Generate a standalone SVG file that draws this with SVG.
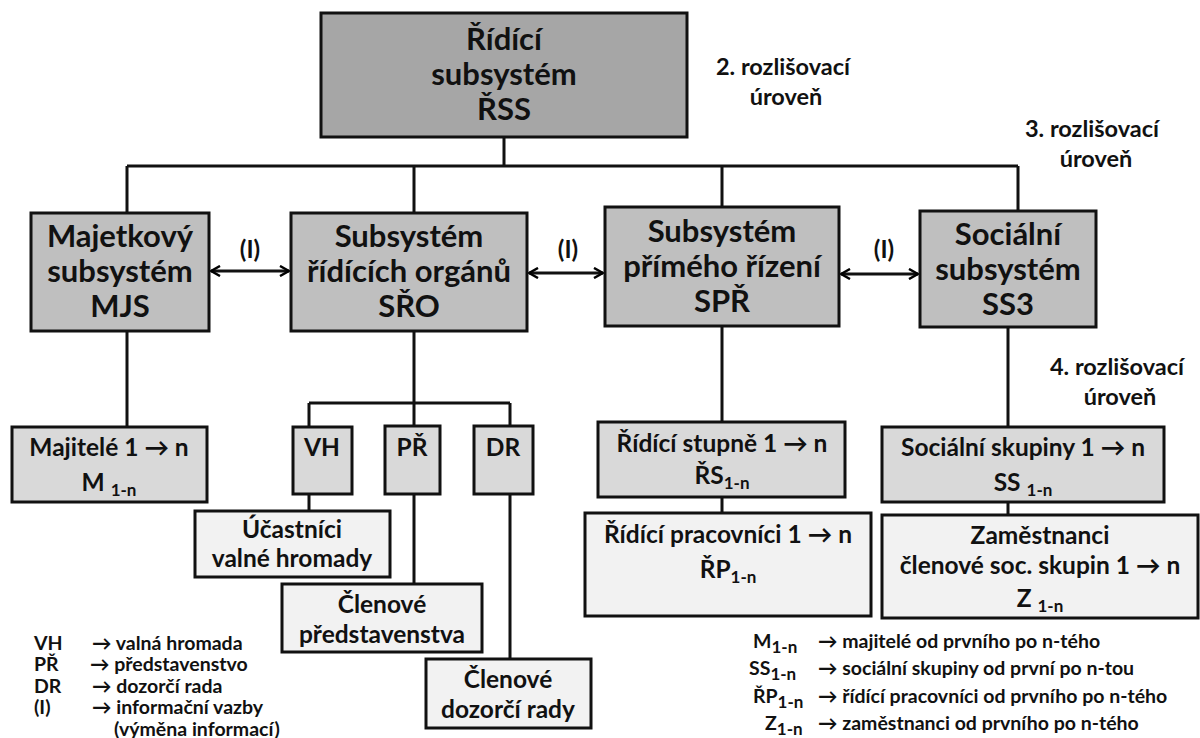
<svg xmlns="http://www.w3.org/2000/svg" width="1200" height="738" viewBox="0 0 1200 738">
<defs>
<marker id="chev" viewBox="0 0 12 12" refX="11" refY="6" markerWidth="12" markerHeight="12" markerUnits="userSpaceOnUse" orient="auto-start-reverse">
<path d="M2,1 L11,6 L2,11" fill="none" stroke="#000" stroke-width="2.5"/>
</marker>
<style>
text{font-family:Lato,"Liberation Sans",sans-serif;font-weight:bold;fill:#111;text-anchor:middle}
.b{stroke:#111;stroke-width:3}
.l1{fill:#a6a6a6}
.l2{fill:#bfbfbf}
.l3{fill:#d9d9d9}
.l4{fill:#f2f2f2}
.big{font-size:31px}
.mid{font-size:24.5px}
.sub{font-size:17px}
.lab{font-size:23.5px}
.ii{font-size:24px}
.leg{font-size:19.5px;text-anchor:start}
.ln{stroke:#111;stroke-width:3;fill:none}
</style>
</defs>
<rect width="1200" height="738" fill="#fff"/>

<g id="connectors">
<path class="ln" d="M504,137 V166 M127,166 H1018 M127,166 V213 M414,166 V213 M722,166 V207 M1018,166 V211"/>
<path class="ln" d="M127,331 V427 M414,331 V426 M309,403 H510 M309,403 V427 M510,403 V426 M309,494 V511 M414,494 V584 M510,494 V659"/>
<path class="ln" d="M722,326 V422 M722,497 V513 M1008,327 V427 M1008,502 V515"/>
<line class="ln" x1="211" y1="271" x2="289" y2="271" marker-start="url(#chev)" marker-end="url(#chev)"/>
<line class="ln" x1="529" y1="273" x2="603" y2="273" marker-start="url(#chev)" marker-end="url(#chev)"/>
<line class="ln" x1="841" y1="274" x2="918" y2="274" marker-start="url(#chev)" marker-end="url(#chev)"/>
<text class="ii" x="250" y="258">(I)</text>
<text class="ii" x="568" y="258">(I)</text>
<text class="ii" x="884" y="258">(I)</text>
</g>

<g id="rss">
<rect class="b l1" x="321" y="13" width="366" height="124"/>
<text class="big" x="504" y="50">Řídící</text>
<text class="big" x="504" y="85">subsystém</text>
<text class="big" x="504" y="120">ŘSS</text>
</g>

<g id="levels">
<text class="lab" x="783" y="75">2. rozlišovací</text>
<text class="lab" x="786" y="105">úroveň</text>
<text class="lab" x="1092" y="137">3. rozlišovací</text>
<text class="lab" x="1096" y="167">úroveň</text>
<text class="lab" x="1117" y="375">4. rozlišovací</text>
<text class="lab" x="1120" y="405">úroveň</text>
</g>

<g id="mjs">
<rect class="b l2" x="31" y="213" width="178" height="118"/>
<text class="big" x="120" y="247">Majetkový</text>
<text class="big" x="120" y="282">subsystém</text>
<text class="big" x="120" y="317">MJS</text>
</g>

<g id="sro">
<rect class="b l2" x="291" y="213" width="236" height="118"/>
<text class="big" x="409" y="247">Subsystém</text>
<text class="big" x="409" y="282">řídících orgánů</text>
<text class="big" x="409" y="317">SŘO</text>
</g>

<g id="spr">
<rect class="b l2" x="605" y="207" width="234" height="119"/>
<text class="big" x="722" y="242">Subsystém</text>
<text class="big" x="722" y="277">přímého řízení</text>
<text class="big" x="722" y="312">SPŘ</text>
</g>

<g id="ss3">
<rect class="b l2" x="920" y="211" width="176" height="116"/>
<text class="big" x="1008" y="245">Sociální</text>
<text class="big" x="1008" y="280">subsystém</text>
<text class="big" x="1008" y="315">SS3</text>
</g>

<g id="majitele">
<rect class="b l3" x="12" y="427" width="195" height="75"/>
<text class="mid" x="109" y="456">Majitelé 1 → n</text>
<text class="mid" x="109" y="491">M <tspan class="sub" dy="5">1-n</tspan></text>
</g>

<g id="vh">
<rect class="b l3" x="293" y="427" width="59" height="67"/>
<text class="mid" x="322" y="456">VH</text>
</g>
<g id="pr">
<rect class="b l3" x="385" y="426" width="55" height="68"/>
<text class="mid" x="412" y="456">PŘ</text>
</g>
<g id="dr">
<rect class="b l3" x="474" y="426" width="59" height="68"/>
<text class="mid" x="503" y="456">DR</text>
</g>

<g id="ucastnici">
<rect class="b l4" x="195" y="511" width="195" height="66"/>
<text class="mid" x="292" y="538">Účastníci</text>
<text class="mid" x="292" y="567">valné hromady</text>
</g>
<g id="clenove-pr">
<rect class="b l4" x="282" y="584" width="200" height="68"/>
<text class="mid" x="382" y="613">Členové</text>
<text class="mid" x="382" y="643">představenstva</text>
</g>
<g id="clenove-dr">
<rect class="b l4" x="426" y="659" width="165" height="69"/>
<text class="mid" x="508" y="688">Členové</text>
<text class="mid" x="508" y="718">dozorčí rady</text>
</g>

<g id="ridici-stupne">
<rect class="b l3" x="598" y="422" width="247" height="75"/>
<text class="mid" x="722" y="452">Řídící stupně 1 → n</text>
<text class="mid" x="722" y="484">ŘS<tspan class="sub" dy="5">1-n</tspan></text>
</g>
<g id="ridici-pracovnici">
<rect class="b l4" x="585" y="513" width="286" height="103"/>
<text class="mid" x="728" y="543">Řídící pracovníci 1 → n</text>
<text class="mid" x="728" y="578">ŘP<tspan class="sub" dy="5">1-n</tspan></text>
</g>

<g id="soc-skupiny">
<rect class="b l3" x="882" y="427" width="282" height="75"/>
<text class="mid" x="1023" y="456">Sociální skupiny 1 → n</text>
<text class="mid" x="1023" y="491">SS <tspan class="sub" dy="5">1-n</tspan></text>
</g>
<g id="zamestnanci">
<rect class="b l4" x="882" y="515" width="316" height="103"/>
<text class="mid" x="1040" y="544">Zaměstnanci</text>
<text class="mid" x="1040" y="574">členové soc. skupin 1 → n</text>
<text class="mid" x="1040" y="607">Z <tspan class="sub" dy="5">1-n</tspan></text>
</g>

<g id="legend-left">
<text class="leg" x="34" y="650">VH</text><text class="leg" x="92" y="650">→ valná hromada</text>
<text class="leg" x="34" y="671">PŘ</text><text class="leg" x="90" y="671">→ představenstvo</text>
<text class="leg" x="34" y="693">DR</text><text class="leg" x="92" y="693">→ dozorčí rada</text>
<text class="leg" x="34" y="714">(I)</text><text class="leg" x="92" y="714">→ informační vazby</text>
<text class="leg" x="114" y="736">(výměna informací)</text>
</g>

<g id="legend-right">
<text class="leg" x="753" y="648">M<tspan class="sub" dy="5">1-n</tspan></text><text class="leg" x="818" y="648">→ majitelé od  prvního po n-tého</text>
<text class="leg" x="749" y="675">SS<tspan class="sub" dy="5">1-n</tspan></text><text class="leg" x="818" y="675">→ sociální skupiny od první po n-tou</text>
<text class="leg" x="753" y="703">ŘP<tspan class="sub" dy="5">1-n</tspan></text><text class="leg" x="818" y="703">→ řídící pracovníci od prvního po n-tého</text>
<text class="leg" x="765" y="730">Z<tspan class="sub" dy="5">1-n</tspan></text><text class="leg" x="818" y="730">→ zaměstnanci od prvního po n-tého</text>
</g>
</svg>
